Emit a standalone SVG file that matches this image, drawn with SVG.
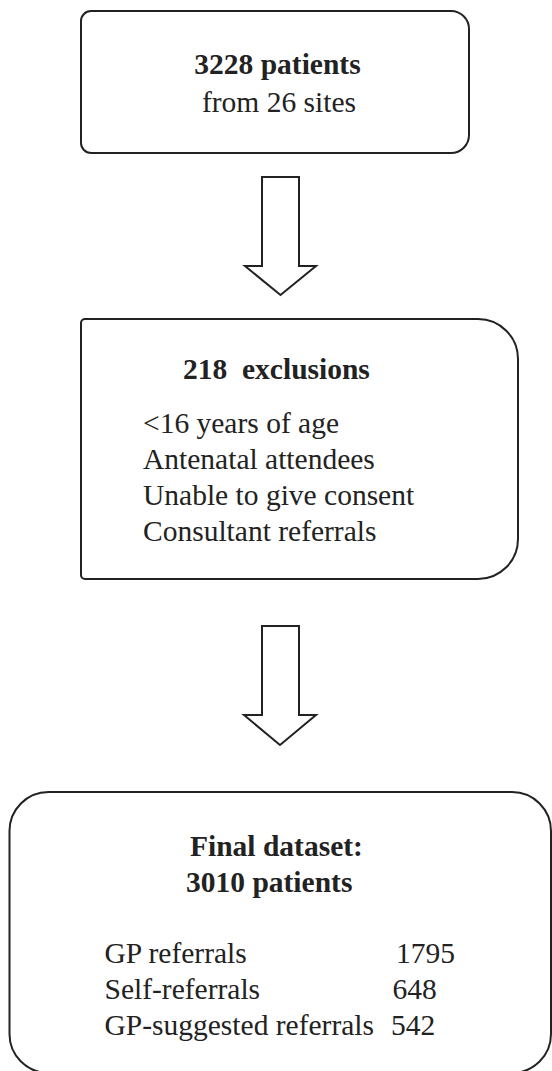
<svg xmlns="http://www.w3.org/2000/svg" width="552" height="1071" viewBox="0 0 552 1071">
<style>
.box{fill:#fff;stroke:#222;stroke-width:2}
.arr{fill:#fff;stroke:#222;stroke-width:2;stroke-linejoin:miter}
text{font-family:"Liberation Serif","Times New Roman",serif;font-size:29.5px;fill:#222;white-space:pre}
.b{font-weight:bold}
</style>
<rect width="552" height="1071" fill="#fff"/>
<g id="connectors">
<polygon class="arr" points="262,177 299,177 299,266 316,266 280.5,295 245,266 262,266"/>
<polygon class="arr" points="262,626 299,626 299,715 316,715 280,745 244,715 262,715"/>
</g>
<g id="node-start">
<path class="box" d="M91,11 H451 A18,18 0 0 1 469,29 V135 A18,18 0 0 1 451,153 H91 A10,10 0 0 1 81,143 V21 A10,10 0 0 1 91,11 Z"/>
<text class="b" x="277.5" y="74" text-anchor="middle">3228 patients</text>
<text x="279" y="112" text-anchor="middle">from 26 sites</text>
</g>
<g id="node-exclusions">
<path class="box" d="M85,319 H478 A40,40 0 0 1 518,359 V539 A40,40 0 0 1 478,579 H85 A4,4 0 0 1 81,575 V323 A4,4 0 0 1 85,319 Z"/>
<text class="b" x="183" y="379">218  exclusions</text>
<text x="143" y="433">&lt;16 years of age</text>
<text x="143" y="469">Antenatal attendees</text>
<text x="143" y="505">Unable to give consent</text>
<text x="143" y="541">Consultant referrals</text>
</g>
<g id="node-final">
<rect class="box" x="9.5" y="792" width="541.5" height="281" rx="39" ry="39"/>
<text class="b" x="190" y="856">Final dataset:</text>
<text class="b" x="186" y="892">3010 patients</text>
<text x="104.5" y="963">GP referrals</text>
<text x="396" y="963">1795</text>
<text x="104.5" y="999">Self-referrals</text>
<text x="392.5" y="999">648</text>
<text x="104.5" y="1035">GP-suggested referrals</text>
<text x="391" y="1035">542</text>
</g>
</svg>
